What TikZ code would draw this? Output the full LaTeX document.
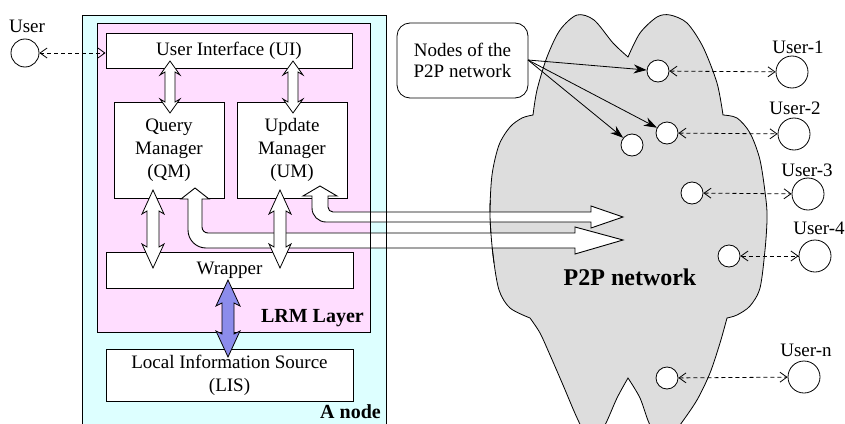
\documentclass[tikz,border=0pt]{standalone}
\usepackage{fontspec}
\setmainfont{Liberation Serif}
\usetikzlibrary{arrows.meta,calc}
\definecolor{cyanbg}{RGB}{221,255,255}
\definecolor{pinkbg}{RGB}{255,221,255}
\definecolor{cloudgray}{RGB}{221,221,221}
\definecolor{lisarrow}{RGB}{140,140,235}
\tikzset{
 box/.style={draw=black, fill=white, line width=0.9pt, inner sep=0pt, align=center, font=\fontsize{19}{23}\selectfont},
 lbl/.style={font=\fontsize{19}{23}\selectfont, inner sep=0pt},
 boldlbl/.style={font=\fontsize{20}{24}\selectfont\bfseries, inner sep=0pt},
 pnode/.style={circle, draw, fill=white, minimum size=22pt, inner sep=0pt, line width=0.8pt},
 unode/.style={circle, draw, fill=white, minimum size=32pt, inner sep=0pt, line width=0.8pt},
 dashconn/.style={dash pattern=on 4pt off 3pt, line width=0.8pt},
 pointer/.style={line width=0.8pt},
 fat/.style={draw=black, fill=white, line width=0.9pt},
 outline/.style={draw=black, line width=0.9pt},
}
\newcommand\DblArrow[8]{%
\draw[line width=0.8pt, fill=#7] (#1,#2) -- ({#1+#5},{#2+#6}) -- ({#1+#4},{#2+#6-#8}) -- ({#1+#4},{#3-#6+#8}) -- ({#1+#5},{#3-#6}) -- (#1,#3) -- ({#1-#5},{#3-#6}) -- ({#1-#4},{#3-#6+#8}) -- ({#1-#4},{#2+#6-#8}) -- ({#1-#5},{#2+#6}) -- cycle;}
\def\mycloud{plot[smooth] coordinates {(530,318) (510,308) (499,290) (493,255) (490,215) (492,175) (499,145) (510,127) (522,118) (533,115)}
 -- plot[smooth] coordinates {(533,115) (537,90) (547,57) (560,30) (577,15) (594,20) (613,43) (628,57)}
 -- plot[smooth] coordinates {(628,57) (640,33) (657,17) (670,15) (687,23) (703,47) (717,83) (723,115)}
 -- plot[smooth] coordinates {(723,115) (737,118) (750,133) (760,160) (766,200) (767,220) (765,250) (760,288) (750,306) (737,315) (727,318)}
 -- plot[smooth] coordinates {(727,318) (720,343) (710,373) (697,400) (680,425) (665,445) (650,425) (640,398) (628,378)}
 -- plot[smooth] coordinates {(628,378) (617,398) (605,425) (592,445) (578,420) (563,385) (550,355) (540,333) (530,318)} -- cycle}
\begin{document}
\begin{tikzpicture}[x=1pt,y=-1pt]
\useasboundingbox (0,0) rectangle (845,423);
\fill[white] (0,0) rectangle (845,423);
% outer boxes
\path[fill=cyanbg] (82,15) rectangle (386,440);
\path[fill=pinkbg] (97,23) rectangle (370,332);
\draw[outline] (82,440) -- (82,15) -- (386,15) -- (386,440);
\draw[outline] (97,23) rectangle (370,332);
\node[boldlbl, anchor=east] (lrm) at (364,318) {LRM Layer};
\node[boldlbl, anchor=east] (anode) at (381,412) {A node};
% inner boxes
\node[box, minimum width=246pt, minimum height=35pt] (ui) at (229,50.5) {User Interface (UI)};
\node[box, minimum width=110pt, minimum height=96pt] (qm) at (169,150) {Query\\Manager\\(QM)};
\node[box, minimum width=110pt, minimum height=96pt] (um) at (292,150) {Update\\Manager\\(UM)};
\node[box, minimum width=247pt, minimum height=36pt] (wrap) at (229.5,270) {Wrapper};
\node[box, minimum width=247pt, minimum height=52pt] (lis) at (229.5,375) {Local Information Source\\(LIS)};
% cloud
\fill[cloudgray] \mycloud;
\draw[line width=0.8pt] \mycloud;
\node[font=\fontsize{24}{28}\selectfont\bfseries, inner sep=0pt] (p2p) at (630,277) {P2P network};
% fat arrows to the P2P network
\draw[fat] (320,186) -- (337,196) -- (328,196) [rounded corners=5] -- (328,212) [sharp corners] -- (591,212) -- (591,206) -- (623,217) -- (591,228) -- (591,222) [rounded corners=14] -- (312,222) [sharp corners] -- (312,196) -- (303,196) -- cycle;
\draw[fat] (195,188) -- (209,199) -- (202,199) [rounded corners=6] -- (202,233) [sharp corners] -- (575,233) -- (575,227) -- (623,240) -- (575,254) -- (575,248) [rounded corners=18] -- (188,248) [sharp corners] -- (188,199) -- (181,199) -- cycle;
% borders visible through the bands
\draw[outline] (370,200) -- (370,260);
\draw[outline] (386,200) -- (386,260);
\begin{scope}
\clip (470,200) rectangle (520,262);
\draw[line width=0.8pt] \mycloud;
\end{scope}
% double arrows
\DblArrow{170}{61}{113}{5}{10}{14}{white}{3}
\DblArrow{293}{61}{113}{5}{10}{14}{white}{3}
\DblArrow{153}{190}{268}{6}{11}{24}{white}{3}
\DblArrow{280}{190}{268}{6}{11}{24}{white}{3}
\DblArrow{228}{280}{357}{6}{12}{26}{lisarrow}{3}
% local user
\node[circle, draw, fill=white, minimum size=28pt, inner sep=0pt, line width=0.8pt] (user) at (25,53) {};
\node[lbl] (userl) at (27,26) {User};
\draw[dashconn, {Straight Barb[length=7pt,width=10pt]}-{Straight Barb[length=7pt,width=10pt]}] (user.east) -- (user.east -| ui.west);
% label box
\node[draw, rounded corners=13pt, fill=white, line width=0.8pt, align=center, minimum width=131pt, minimum height=75pt, inner sep=0pt, font=\fontsize{19}{21}\selectfont] (nodesl) at (462.5,60.5) {Nodes of the\\P2P network};
% P2P nodes
\node[pnode] (n1) at (658,71) {};
\node[pnode] (n2) at (667,133) {};
\node[pnode] (n3) at (632,145) {};
\node[pnode] (n4) at (692,193) {};
\node[pnode] (n5) at (729,256) {};
\node[pnode] (n6) at (667,378) {};
% remote users
\node[unode] (u1) at (792,72) {};
\node[unode] (u2) at (794,134) {};
\node[unode] (u3) at (808,194) {};
\node[unode] (u4) at (815,256) {};
\node[unode] (u5) at (804,377) {};
\node[lbl] (u1l) at (798,47) {User-1};
\node[lbl] (u2l) at (795,108) {User-2};
\node[lbl] (u3l) at (807,170) {User-3};
\node[lbl] (u4l) at (819,228) {User-4};
\node[lbl] (u5l) at (806,350) {User-n};
% pointers
\coordinate (src) at (528,60);
\draw[pointer, -{Stealth[length=13pt,width=9pt]}] (src) -- (n1);
\draw[pointer, -{Stealth[length=13pt,width=9pt]}] (src) -- (n2);
\draw[pointer, -{Stealth[length=13pt,width=9pt]}] (src) -- (n3);
% dashed connections
\draw[dashconn, {Straight Barb[length=7pt,width=10pt]}-{Straight Barb[length=7pt,width=10pt]}] (n1) -- (u1);
\draw[dashconn, {Straight Barb[length=7pt,width=10pt]}-{Straight Barb[length=7pt,width=10pt]}] (n2) -- (u2);
\draw[dashconn, {Straight Barb[length=7pt,width=10pt]}-{Straight Barb[length=7pt,width=10pt]}] (n4) -- (u3);
\draw[dashconn, {Straight Barb[length=7pt,width=10pt]}-{Straight Barb[length=7pt,width=10pt]}] (n5) -- (u4);
\draw[dashconn, {Straight Barb[length=7pt,width=10pt]}-{Straight Barb[length=7pt,width=10pt]}] (n6) -- (u5);
\end{tikzpicture}
\end{document}
